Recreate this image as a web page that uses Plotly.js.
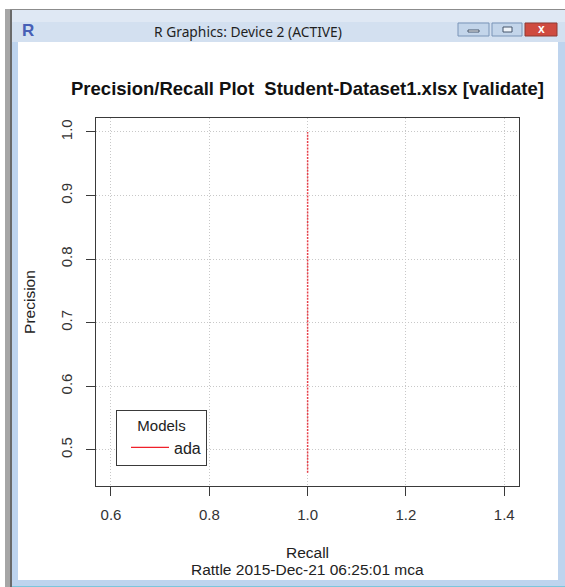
<!DOCTYPE html>
<html>
<head>
<meta charset="utf-8">
<script src="https://cdn.plot.ly/plotly-3.0.1.min.js"></script>
<style>html,body{margin:0;padding:0;background:#fff;}#chart{width:565px;height:587px;}</style>
</head>
<body>
<div id="chart"></div>
<script>
// ---- data ----
var modelNames = ["ada"];
var recallAda = [1.0, 1.0];
var precisionAda = [0.464, 1.0];
var xTicks = [0.6, 0.8, 1.0, 1.2, 1.4];
var xTickLabels = ["0.6", "0.8", "1.0", "1.2", "1.4"];
var yTicks = [0.5, 0.6, 0.7, 0.8, 0.9, 1.0];
var yTickLabels = ["0.5", "0.6", "0.7", "0.8", "0.9", "1.0"];
var chartTitle = "Precision/Recall Plot  Student-Dataset1.xlsx [validate]";
var windowTitle = "R Graphics: Device 2 (ACTIVE)";
var xLabel = "Recall";
var subLabel = "Rattle 2015-Dec-21 06:25:01 mca";
var yLabel = "Precision";
var legendTitle = "Models";

// ---- layout helpers (pixel -> paper) ----
var W = 565, H = 587;
var L = 96, R = 519, T = 118, B = 486;
function px(x) { return (x - L) / (R - L); }
function py(y) { return (B - y) / (B - T); }
function rect(x0, y0, x1, y1, fill, line) {
  return {type: "rect", xref: "paper", yref: "paper", layer: "above",
    x0: px(x0), x1: px(x1), y0: py(y1), y1: py(y0),
    fillcolor: fill, line: line ? {color: line, width: 1} : {width: 0}};
}

var font = "Liberation Sans, Arial, sans-serif";

var traces = [
  {x: recallAda, y: precisionAda, type: "scatter", mode: "lines", name: modelNames[0],
   showlegend: false, line: {color: "#e8404a", width: 1.5, dash: "2px,1.2px"}, hoverinfo: "skip"},
  {x: [null], y: [null], type: "scatter", mode: "lines", name: modelNames[0],
   showlegend: true, line: {color: "#f0202a", width: 1.3}, hoverinfo: "skip"}
];

var shapes = [
  // outer frame
  rect(5, 9, 565, 10, "#8c8c8c"),
  rect(5, 9, 10, 587, "#a6a6a6"),
  rect(10, 10, 12, 587, "#6a6a6a"),
  // title bar
  rect(12, 10, 565, 42, "#d3e0f0"),
  rect(12, 10, 565, 22, "#dfe8f4"),
  // side frames
  rect(12, 42, 18, 587, "#bed4ee"),
  rect(558, 42, 565, 587, "#bed4ee"),
  rect(12, 580, 565, 586, "#bed4ee"),
  rect(12, 586, 565, 587, "#7cc6dc"),
  // buttons
  rect(458, 23, 489, 36, "#c3d5ea", "#7b95b8"),
  rect(492, 23, 522, 36, "#c3d5ea", "#7b95b8"),
  rect(525, 23, 557, 36, "#cf4b40", "#8f3a33"),
  rect(468, 30, 479, 32, "#ffffff", "#44546a"),
  rect(503, 27, 512, 32, "#eef3f9", "#44546a")
];

var annotations = [
  {text: windowTitle, xref: "paper", yref: "paper", x: px(248), y: py(32), showarrow: false,
   xanchor: "center", yanchor: "middle", font: {family: "Noto Sans, sans-serif", size: 13.8, color: "#1f1f1f"}},
  {text: "<b>R</b>", xref: "paper", yref: "paper", x: px(28), y: py(31), showarrow: false,
   xanchor: "center", yanchor: "middle", font: {family: font, size: 17, color: "#4760b6"}},
  {text: "<b>x</b>", xref: "paper", yref: "paper", x: px(541), y: py(29), showarrow: false,
   xanchor: "center", yanchor: "middle", font: {family: font, size: 12, color: "#ffffff"}},
  {text: subLabel, xref: "paper", yref: "paper", x: 0.5, y: py(569), showarrow: false,
   xanchor: "center", yanchor: "middle", font: {family: font, size: 15.5, color: "#222"}}
];

var layout = {
  width: W, height: H,
  margin: {l: L, r: W - R, t: T, b: H - B, pad: 0},
  paper_bgcolor: "#ffffff", plot_bgcolor: "#ffffff",
  font: {family: font, size: 15, color: "#222"},
  title: {text: "<b>" + chartTitle + "</b>", xref: "paper", x: 0.5, xanchor: "center",
          yref: "container", y: 1 - 89 / H, yanchor: "middle",
          font: {family: font, size: 18.5, color: "#111"}},
  xaxis: {range: [0.5695, 1.430], tickvals: xTicks, ticktext: xTickLabels,
          showline: true, mirror: true, linecolor: "#3a3a3a", linewidth: 1,
          ticks: "outside", ticklen: 9, tickcolor: "#3a3a3a", tickwidth: 1,
          showgrid: true, gridcolor: "#c8c8c8", griddash: "1px,2px", gridwidth: 1,
          zeroline: false, ticklabelstandoff: 6,
          tickfont: {family: font, size: 15, color: "#333"},
          title: {text: xLabel, standoff: 25, font: {family: font, size: 15.5, color: "#222"}}},
  yaxis: {range: [0.443, 1.022], tickvals: yTicks, ticktext: yTickLabels, tickangle: -90,
          showline: true, mirror: true, linecolor: "#3a3a3a", linewidth: 1,
          ticks: "outside", ticklen: 9, tickcolor: "#3a3a3a", tickwidth: 1,
          showgrid: true, gridcolor: "#c8c8c8", griddash: "1px,2px", gridwidth: 1,
          zeroline: false, ticklabelstandoff: 8,
          tickfont: {family: font, size: 15, color: "#333"},
          title: {text: yLabel, standoff: 18, font: {family: font, size: 15.5, color: "#222"}}},
  showlegend: true,
  legend: {x: px(116), y: py(410), xanchor: "left", yanchor: "top",
           bgcolor: "#ffffff", bordercolor: "#3a3a3a", borderwidth: 1,
           indentation: 9, itemwidth: 38,
           font: {family: font, size: 16, color: "#222"},
           title: {text: legendTitle, side: "top center", font: {family: font, size: 15, color: "#222"}}},
  shapes: shapes,
  annotations: annotations
};

Plotly.newPlot("chart", traces, layout, {staticPlot: true, displayModeBar: false});
</script>
</body>
</html>
